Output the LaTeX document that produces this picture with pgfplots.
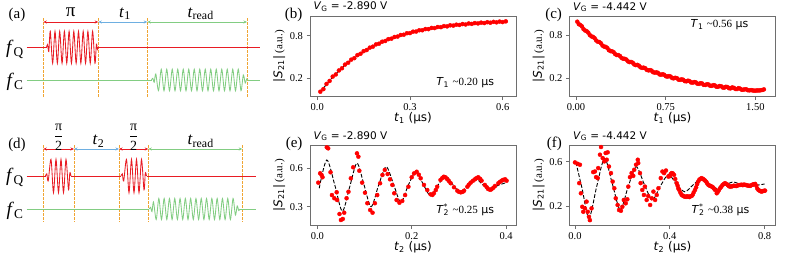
\documentclass[border=0pt]{standalone}
\usepackage{pgfplots}
\pgfplotsset{compat=1.18}
\usepackage{fontspec}
\setmainfont{Liberation Serif}
\newfontfamily\dv{DejaVu Sans}
\usetikzlibrary{arrows.meta}
\definecolor{pr}{RGB}{232,28,36}
\definecolor{pg}{RGB}{130,205,130}
\definecolor{pb}{RGB}{110,175,225}
\definecolor{po}{RGB}{240,165,50}
\definecolor{frame}{RGB}{110,110,110}
\pgfplotsset{
  dataax/.style={
    scale only axis, width=206pt, height=80.5pt, clip=false, anchor=south west,
    axis line style={frame, line width=0.8pt},
    tick align=outside, tick pos=left,
    major tick length=3.5pt,
    tick style={frame, line width=0.8pt},
    tick label style={font=\fontsize{10.5}{12}\selectfont, black},
    every axis x label/.style={at={(rel axis cs:0.5,-0.27)}, anchor=center, font=\dv\fontsize{12}{14}\selectfont},
    every axis y label/.style={at={(rel axis cs:-0.15,0.5)}, anchor=center, rotate=90},
    ylabel={{\dv\fontsize{12}{14}\selectfont|\textit{S}\textsubscript{21}|} {\fontsize{11}{13}\selectfont(a.u.)}},
  },
  redpts/.style={only marks, mark=*, mark size=2pt, color=red},
  fitln/.style={black, line width=0.9pt, dash pattern=on 3.8pt off 1.8pt, smooth, mark=none},
  pl/.style={line width=0.85pt, mark=none},
  od/.style={po, line width=0.9pt, dash pattern=on 2.5pt off 1.5pt, mark=none},
  ar/.style={line width=0.8pt, mark=none, <->, >={Stealth[length=3.5pt,width=3pt]}},
}
\newcommand{\plab}[1]{\fontsize{15}{17}\selectfont #1}
\begin{document}
\begin{tikzpicture}[x=1pt,y=1pt]
\useasboundingbox (0pt,0pt) rectangle (789pt,263pt);
% ---------------- pulse sequences (a) and (d) ----------------
\begin{axis}[at={(0pt,0pt)}, anchor=south west, scale only axis, width=270pt, height=263pt,
  xmin=0, xmax=270, ymin=0, ymax=263, y dir=reverse, hide axis, clip=false]
% (a) dashed guides
\addplot[od] coordinates {(43.3,18) (43.3,98)};
\addplot[od] coordinates {(98.3,18) (98.3,98)};
\addplot[od] coordinates {(147.3,18) (147.3,98)};
\addplot[od] coordinates {(247,18) (247,98)};
% (a) arrows
\addplot[ar, pr] coordinates {(43.3,22) (98.3,22)};
\addplot[ar, pb] coordinates {(98.3,22) (147.3,22)};
\addplot[ar, pg] coordinates {(147.3,22) (247,22)};
% (a) baselines
\addplot[pl, pr] coordinates {(26.7,47.3) (46.5,47.3)};
\addplot[pl, pr] coordinates {(98.3,47.3) (260,47.3)};
\addplot[pl, pg] coordinates {(26.7,80) (151.5,80)};
\addplot[pl, pg] coordinates {(248,80) (260,80)};
% (a) pulses
\addplot[pl, pr, smooth] coordinates {(46.5,47.3) (47.6,44.5) (48.8,51.5) (50.3,31.3) (52.65,63.3) (55.0,31.3) (57.35,63.3) (59.7,31.3) (62.05,63.3) (64.4,31.3) (66.75,63.3) (69.1,31.3) (71.45,63.3) (73.8,31.3) (76.15,63.3) (78.5,31.3) (80.85,63.3) (83.2,31.3) (85.55,63.3) (87.9,31.3) (90.25,63.3) (92.6,31.3) (94.95,63.3) (96.4,44) (97.4,49.5) (98.3,47.3)};
\addplot[pl, pg, smooth] coordinates {(151.5,80) (152.8,78.3) (154.2,82.2) (155.8,74) (158.5,90.7) (161.25,69.3) (164,90.7) (166.75,69.3) (169.5,90.7) (172.25,69.3) (175,90.7) (177.75,69.3) (180.5,90.7) (183.25,69.3) (186,90.7) (188.75,69.3) (191.5,90.7) (194.25,69.3) (197,90.7) (199.75,69.3) (202.5,90.7) (205.25,69.3) (208,90.7) (210.75,69.3) (213.5,90.7) (216.25,69.3) (219,90.7) (221.75,69.3) (224.5,90.7) (227.25,69.3) (230,90.7) (232.75,69.3) (235.5,90.7) (238.25,69.3) (241,90.7) (243.3,75) (245.2,83) (246.6,79) (248,80)};
% (a) text
\node[font=\plab{}] at (axis cs:17,15) {(a)};
\node[font=\fontsize{19}{21}\selectfont, anchor=base] at (axis cs:70.7,16) {π};
\node[font=\fontsize{17}{19}\selectfont, anchor=base] at (axis cs:125,17) {\textit{t}\textsubscript{1}};
\node[font=\fontsize{17}{19}\selectfont, anchor=base] at (axis cs:200.7,17) {\textit{t}\textsubscript{read}};
\node[font=\fontsize{19}{21}\selectfont] at (axis cs:15,49.5) {\textit{f}\textsubscript{Q}};
\node[font=\fontsize{19}{21}\selectfont] at (axis cs:15,81.5) {\textit{f}\textsubscript{C}};
% (d) dashed guides
\addplot[od] coordinates {(43.3,145) (43.3,221.7)};
\addplot[od] coordinates {(74,145) (74,221.7)};
\addplot[od] coordinates {(119,145) (119,221.7)};
\addplot[od] coordinates {(148.3,145) (148.3,221.7)};
\addplot[od] coordinates {(242.3,145) (242.3,221.7)};
% (d) arrows
\addplot[ar, pr] coordinates {(43.3,149) (74,149)};
\addplot[ar, pb] coordinates {(74,149) (119,149)};
\addplot[ar, pr] coordinates {(119,149) (148.3,149)};
\addplot[ar, pg] coordinates {(148.3,149) (242.3,149)};
% (d) baselines
\addplot[pl, pr] coordinates {(26.7,176) (45.5,176)};
\addplot[pl, pr] coordinates {(71,176) (121,176)};
\addplot[pl, pr] coordinates {(146.5,176) (256,176)};
\addplot[pl, pg] coordinates {(26.7,209) (149.3,209)};
\addplot[pl, pg] coordinates {(240,209) (256,209)};
% (d) pulses
\addplot[pl, pr, smooth] coordinates {(45.5,176) (46.8,173.8) (48.2,181) (51,159.3) (53.5,192.7) (56,159.3) (58.5,192.7) (61,159.3) (63.5,192.7) (66,159.3) (68.5,190) (69.8,173) (71,176)};
\addplot[pl, pr, smooth] coordinates {(121,176) (122.3,173.8) (123.7,181) (126.5,159.3) (129,192.7) (131.5,159.3) (134,192.7) (136.5,159.3) (139,192.7) (141.5,159.3) (144,190) (145.3,173) (146.5,176)};
\addplot[pl, pg, smooth] coordinates {(149.3,209) (150.6,207.3) (152,211.5) (153.5,202) (156.2,219.5) (158.85,198.5) (161.5,219.5) (164.15,198.5) (166.8,219.5) (169.45,198.5) (172.1,219.5) (174.75,198.5) (177.4,219.5) (180.05,198.5) (182.7,219.5) (185.35,198.5) (188.0,219.5) (190.65,198.5) (193.3,219.5) (195.95,198.5) (198.6,219.5) (201.25,198.5) (203.9,219.5) (206.55,198.5) (209.2,219.5) (211.85,198.5) (214.5,219.5) (217.15,198.5) (219.8,219.5) (222.45,198.5) (225.1,219.5) (227.75,198.5) (230.4,219.5) (233.05,198.5) (235.4,215) (237.2,206) (238.7,210.5) (240,209)};
% (d) text
\node[font=\plab{}] at (axis cs:17,145) {(d)};
\node[font=\fontsize{14}{16}\selectfont] at (axis cs:58.7,137) {$\displaystyle{\hbox{π}\over\hbox{2}}$};
\node[font=\fontsize{14}{16}\selectfont] at (axis cs:133.7,137) {$\displaystyle{\hbox{π}\over\hbox{2}}$};
\node[font=\fontsize{17}{19}\selectfont, anchor=base] at (axis cs:98.5,144.5) {\textit{t}\textsubscript{2}};
\node[font=\fontsize{17}{19}\selectfont, anchor=base] at (axis cs:200.7,144.5) {\textit{t}\textsubscript{read}};
\node[font=\fontsize{19}{21}\selectfont] at (axis cs:15,177.5) {\textit{f}\textsubscript{Q}};
\node[font=\fontsize{19}{21}\selectfont] at (axis cs:15,210.5) {\textit{f}\textsubscript{C}};
\end{axis}
% ---------------- (b) ----------------
\begin{axis}[dataax, at={(310pt,166.5pt)},
  xmin=-0.0234, xmax=0.643, ymin=-0.06, ymax=1.08,
  xtick={0,0.3,0.6}, xticklabels={0.0,0.3,0.6}, ytick={0.2,0.8}, yticklabels={0.2,0.8},
  xlabel={\textit{t}\textsubscript{1} (μs)}]
\addplot[redpts] coordinates {(0.01,0.008) (0.02,0.045) (0.03,0.118) (0.04,0.160) (0.05,0.222) (0.06,0.252) (0.07,0.309) (0.08,0.340) (0.09,0.392) (0.10,0.418) (0.11,0.462) (0.12,0.483) (0.13,0.526) (0.14,0.545) (0.15,0.582) (0.16,0.598) (0.17,0.632) (0.18,0.646) (0.19,0.678) (0.20,0.688) (0.21,0.716) (0.22,0.726) (0.23,0.752) (0.24,0.759) (0.25,0.783) (0.26,0.789) (0.27,0.811) (0.28,0.815) (0.29,0.836) (0.30,0.838) (0.31,0.858) (0.32,0.860) (0.33,0.878) (0.34,0.878) (0.35,0.895) (0.36,0.894) (0.37,0.911) (0.38,0.909) (0.39,0.924) (0.40,0.922) (0.41,0.937) (0.42,0.933) (0.43,0.948) (0.44,0.944) (0.45,0.957) (0.46,0.953) (0.47,0.966) (0.48,0.960) (0.49,0.974) (0.50,0.968) (0.51,0.980) (0.52,0.975) (0.53,0.986) (0.54,0.980) (0.55,0.992) (0.56,0.985) (0.57,0.997) (0.58,0.990) (0.59,1.001) (0.60,0.994) (0.61,1.004)};
\addplot[fitln] coordinates {(0.01,0.005) (0.03,0.112) (0.05,0.214) (0.07,0.304) (0.09,0.385) (0.11,0.456) (0.13,0.520) (0.15,0.577) (0.17,0.627) (0.19,0.672) (0.21,0.711) (0.23,0.747) (0.25,0.778) (0.27,0.806) (0.29,0.831) (0.31,0.853) (0.33,0.873) (0.35,0.890) (0.37,0.906) (0.39,0.919) (0.41,0.932) (0.43,0.943) (0.45,0.952) (0.47,0.961) (0.49,0.969) (0.51,0.975) (0.53,0.981) (0.55,0.987) (0.57,0.992) (0.59,0.996) (0.61,1.000)};
\node[anchor=east, font=\plab{}, xshift=-4pt, yshift=1pt] at (rel axis cs:0,1) {(b)};
\node[anchor=base west, font=\dv\fontsize{10.5}{12}\selectfont, yshift=6pt] at (rel axis cs:0,1) {\textit{V}\textsubscript{G} = -2.890 V};
\node[anchor=west, font=\dv\fontsize{11}{13}\selectfont] at (rel axis cs:0.596,0.168) {\textit{T}\textsubscript{1} {\rmfamily\textasciitilde0.20} μs};
\end{axis}
% ---------------- (c) ----------------
\begin{axis}[dataax, at={(569.5pt,166.5pt)},
  xmin=-0.054, xmax=1.668, ymin=-0.06, ymax=1.075,
  xtick={0,0.75,1.5}, xticklabels={0.00,0.75,1.50}, ytick={0.2,0.8}, yticklabels={0.2,0.8},
  xlabel={\textit{t}\textsubscript{1} (μs)}]
\addplot[redpts] coordinates {(0.011,0.995) (0.037,0.948) (0.063,0.890) (0.090,0.860) (0.116,0.806) (0.143,0.780) (0.169,0.730) (0.196,0.708) (0.222,0.658) (0.249,0.640) (0.275,0.594) (0.301,0.578) (0.328,0.537) (0.354,0.524) (0.381,0.484) (0.407,0.472) (0.434,0.436) (0.460,0.427) (0.487,0.392) (0.513,0.386) (0.539,0.352) (0.566,0.347) (0.592,0.316) (0.619,0.312) (0.645,0.282) (0.672,0.280) (0.698,0.252) (0.725,0.254) (0.751,0.226) (0.777,0.228) (0.804,0.200) (0.830,0.204) (0.857,0.178) (0.883,0.182) (0.910,0.157) (0.936,0.163) (0.962,0.138) (0.989,0.144) (1.015,0.121) (1.042,0.128) (1.068,0.104) (1.095,0.113) (1.121,0.092) (1.148,0.100) (1.174,0.078) (1.200,0.088) (1.227,0.067) (1.253,0.077) (1.280,0.056) (1.306,0.068) (1.333,0.046) (1.359,0.058) (1.386,0.035) (1.412,0.042) (1.438,0.028) (1.465,0.030) (1.491,0.022) (1.518,0.026) (1.544,0.028) (1.571,0.040)};
\addplot[redpts] coordinates {(0.024,0.960) (0.050,0.928) (0.077,0.870) (0.103,0.840) (0.130,0.787) (0.156,0.762) (0.183,0.712) (0.209,0.690) (0.236,0.643) (0.262,0.624) (0.288,0.580) (0.315,0.565) (0.341,0.525) (0.368,0.511) (0.394,0.473) (0.421,0.461) (0.447,0.425) (0.474,0.417) (0.500,0.383) (0.526,0.375) (0.553,0.343) (0.579,0.338) (0.606,0.308) (0.632,0.305) (0.659,0.276) (0.685,0.274) (0.712,0.247) (0.738,0.246) (0.764,0.220) (0.791,0.221) (0.817,0.196) (0.844,0.198) (0.870,0.174) (0.897,0.176) (0.923,0.154) (0.949,0.157) (0.976,0.135) (1.002,0.139) (1.029,0.118) (1.055,0.123) (1.082,0.103) (1.108,0.109) (1.135,0.090) (1.161,0.096) (1.187,0.076) (1.214,0.084) (1.240,0.065) (1.267,0.073) (1.293,0.055) (1.320,0.062) (1.346,0.045) (1.373,0.050) (1.399,0.036) (1.425,0.040) (1.452,0.027) (1.478,0.026) (1.505,0.024) (1.531,0.025) (1.557,0.032)};
\addplot[fitln] coordinates {(0.011,0.990) (0.063,0.897) (0.116,0.812) (0.169,0.736) (0.222,0.665) (0.275,0.601) (0.328,0.544) (0.381,0.491) (0.434,0.442) (0.487,0.399) (0.539,0.358) (0.592,0.322) (0.645,0.289) (0.698,0.259) (0.751,0.232) (0.804,0.207) (0.857,0.185) (0.910,0.164) (0.962,0.145) (1.015,0.128) (1.068,0.112) (1.121,0.099) (1.174,0.085) (1.227,0.074) (1.280,0.063) (1.333,0.053) (1.386,0.044) (1.438,0.037) (1.491,0.029) (1.544,0.022) (1.571,0.019)};
\node[anchor=east, font=\plab{}, xshift=-4pt, yshift=1pt] at (rel axis cs:0,1) {(c)};
\node[anchor=base west, font=\dv\fontsize{10.5}{12}\selectfont, yshift=6pt] at (rel axis cs:0,1) {\textit{V}\textsubscript{G} = -4.442 V};
\node[anchor=west, font=\dv\fontsize{11}{13}\selectfont] at (rel axis cs:0.571,0.888) {\textit{T}\textsubscript{1} {\rmfamily\textasciitilde0.56} μs};
\end{axis}
% ---------------- (e) ----------------
\begin{axis}[dataax, at={(310pt,37.5pt)},
  xmin=-0.0155, xmax=0.421, ymin=0.153, ymax=0.782,
  xtick={0,0.2,0.4}, xticklabels={0.0,0.2,0.4}, ytick={0.3,0.6}, yticklabels={0.3,0.6},
  xlabel={\textit{t}\textsubscript{2} (μs)}]
\addplot[redpts] coordinates {(0.002,0.488) (0.006,0.561) (0.009,0.548) (0.011,0.530) (0.020,0.764) (0.023,0.756) (0.028,0.569) (0.031,0.391) (0.036,0.366) (0.041,0.413) (0.042,0.352) (0.047,0.243) (0.050,0.196) (0.054,0.204) (0.057,0.253) (0.062,0.366) (0.066,0.417) (0.071,0.522) (0.076,0.608) (0.084,0.717) (0.087,0.691) (0.089,0.581) (0.095,0.488) (0.101,0.409) (0.106,0.327) (0.112,0.274) (0.117,0.253) (0.122,0.327) (0.127,0.391) (0.133,0.483) (0.138,0.548) (0.143,0.587) (0.149,0.555) (0.154,0.514) (0.159,0.470) (0.163,0.405) (0.168,0.352) (0.174,0.331) (0.180,0.345) (0.186,0.391) (0.193,0.456) (0.200,0.530) (0.205,0.560) (0.2105,0.573) (0.215,0.550) (0.219,0.522) (0.226,0.470) (0.233,0.430) (0.240,0.397) (0.244,0.392) (0.247,0.405) (0.251,0.430) (0.254,0.456) (0.261,0.509) (0.265,0.525) (0.268,0.534) (0.272,0.528) (0.2755,0.514) (0.279,0.500) (0.2826,0.483) (0.2896,0.452) (0.2966,0.425) (0.300,0.416) (0.304,0.412) (0.308,0.416) (0.311,0.425) (0.318,0.456) (0.321,0.472) (0.325,0.488) (0.330,0.503) (0.334,0.514) (0.337,0.523) (0.341,0.530) (0.345,0.518) (0.348,0.503) (0.355,0.470) (0.359,0.452) (0.362,0.438) (0.366,0.432) (0.369,0.436) (0.373,0.448) (0.3765,0.462) (0.3835,0.483) (0.387,0.494) (0.3907,0.503) (0.394,0.510) (0.398,0.514) (0.401,0.503)};
\addplot[fitln] coordinates {(0.004,0.444) (0.020,0.665) (0.037,0.47) (0.053,0.265) (0.069,0.46) (0.084,0.640) (0.099,0.47) (0.114,0.30) (0.130,0.47) (0.146,0.612) (0.162,0.47) (0.177,0.335) (0.193,0.47) (0.209,0.575) (0.225,0.47) (0.240,0.385) (0.256,0.47) (0.272,0.540) (0.288,0.47) (0.303,0.410) (0.319,0.47) (0.335,0.520) (0.351,0.47) (0.366,0.430) (0.382,0.465) (0.398,0.485) (0.401,0.485)};
\node[anchor=east, font=\plab{}, xshift=-4pt, yshift=1pt] at (rel axis cs:0,1) {(e)};
\node[anchor=base west, font=\dv\fontsize{10.5}{12}\selectfont, yshift=6pt] at (rel axis cs:0,1) {\textit{V}\textsubscript{G} = -2.890 V};
\node[anchor=west, font=\dv\fontsize{11}{13}\selectfont] at (rel axis cs:0.596,0.193) {\textit{T}\rlap{\textsuperscript{*}}\textsubscript{2} {\rmfamily\textasciitilde0.25} μs};
\end{axis}
% ---------------- (f) ----------------
\begin{axis}[dataax, at={(569.5pt,37.5pt)},
  xmin=-0.023, xmax=0.846, ymin=0.028, ymax=0.75,
  xtick={0,0.4,0.8}, xticklabels={0.0,0.4,0.8}, ytick={0.2,0.6}, yticklabels={0.2,0.6},
  xlabel={\textit{t}\textsubscript{2} (μs)}]
\addplot[redpts] coordinates {(0.000,0.594) (0.011,0.582) (0.018,0.408) (0.021,0.573) (0.025,0.317) (0.031,0.196) (0.035,0.151) (0.042,0.182) (0.049,0.242) (0.054,0.151) (0.059,0.106) (0.063,0.076) (0.070,0.182) (0.077,0.507) (0.084,0.512) (0.089,0.462) (0.096,0.453) (0.098,0.543) (0.1055,0.663) (0.110,0.732) (0.117,0.633) (0.124,0.603) (0.1295,0.678) (0.134,0.618) (0.138,0.684) (0.1435,0.557) (0.152,0.498) (0.159,0.422) (0.166,0.362) (0.172,0.272) (0.180,0.212) (0.186,0.167) (0.194,0.160) (0.200,0.196) (0.206,0.257) (0.214,0.227) (0.221,0.263) (0.225,0.377) (0.232,0.462) (0.239,0.498) (0.246,0.473) (0.250,0.528) (0.2575,0.573) (0.265,0.618) (0.267,0.588) (0.2744,0.498) (0.277,0.408) (0.284,0.347) (0.291,0.302) (0.295,0.377) (0.3025,0.257) (0.309,0.293) (0.317,0.212) (0.324,0.272) (0.331,0.332) (0.338,0.257) (0.345,0.302) (0.352,0.362) (0.362,0.453) (0.369,0.512) (0.376,0.498) (0.384,0.521) (0.394,0.467) (0.400,0.470) (0.404,0.490) (0.408,0.498) (0.413,0.495) (0.418,0.482) (0.423,0.445) (0.429,0.408) (0.433,0.385) (0.436,0.360) (0.440,0.347) (0.445,0.322) (0.450,0.302) (0.455,0.296) (0.459,0.290) (0.464,0.287) (0.469,0.285) (0.473,0.290) (0.478,0.287) (0.483,0.283) (0.487,0.290) (0.4925,0.293) (0.497,0.305) (0.501,0.325) (0.5065,0.347) (0.511,0.370) (0.515,0.398) (0.520,0.422) (0.525,0.440) (0.530,0.448) (0.535,0.453) (0.540,0.445) (0.544,0.440) (0.549,0.431) (0.554,0.420) (0.558,0.405) (0.563,0.392) (0.568,0.385) (0.572,0.383) (0.577,0.377) (0.582,0.370) (0.586,0.360) (0.591,0.347) (0.598,0.317) (0.603,0.330) (0.607,0.345) (0.612,0.362) (0.617,0.375) (0.622,0.390) (0.627,0.400) (0.633,0.408) (0.640,0.400) (0.645,0.390) (0.650,0.380) (0.654,0.377) (0.659,0.378) (0.664,0.380) (0.670,0.385) (0.675,0.383) (0.680,0.382) (0.686,0.387) (0.691,0.390) (0.697,0.392) (0.703,0.394) (0.708,0.390) (0.713,0.395) (0.718,0.392) (0.723,0.390) (0.729,0.386) (0.734,0.385) (0.739,0.383) (0.745,0.390) (0.750,0.395) (0.755,0.398) (0.760,0.401) (0.765,0.385) (0.769,0.360) (0.774,0.347) (0.779,0.340) (0.783,0.335) (0.788,0.332) (0.793,0.337) (0.798,0.340) (0.802,0.341)};
\addplot[fitln] coordinates {(0.004,0.594) (0.030,0.36) (0.059,0.095) (0.092,0.38) (0.125,0.630) (0.158,0.40) (0.191,0.170) (0.225,0.38) (0.258,0.555) (0.292,0.40) (0.326,0.258) (0.360,0.38) (0.394,0.485) (0.428,0.40) (0.463,0.330) (0.497,0.39) (0.531,0.445) (0.565,0.40) (0.599,0.360) (0.633,0.39) (0.667,0.418) (0.701,0.395) (0.735,0.378) (0.769,0.39) (0.800,0.400)};
\node[anchor=east, font=\plab{}, xshift=-4pt, yshift=1pt] at (rel axis cs:0,1) {(f)};
\node[anchor=base west, font=\dv\fontsize{10.5}{12}\selectfont, yshift=6pt] at (rel axis cs:0,1) {\textit{V}\textsubscript{G} = -4.442 V};
\node[anchor=west, font=\dv\fontsize{11}{13}\selectfont] at (rel axis cs:0.576,0.193) {\textit{T}\rlap{\textsuperscript{*}}\textsubscript{2} {\rmfamily\textasciitilde0.38} μs};
\end{axis}
\end{tikzpicture}
\end{document}
